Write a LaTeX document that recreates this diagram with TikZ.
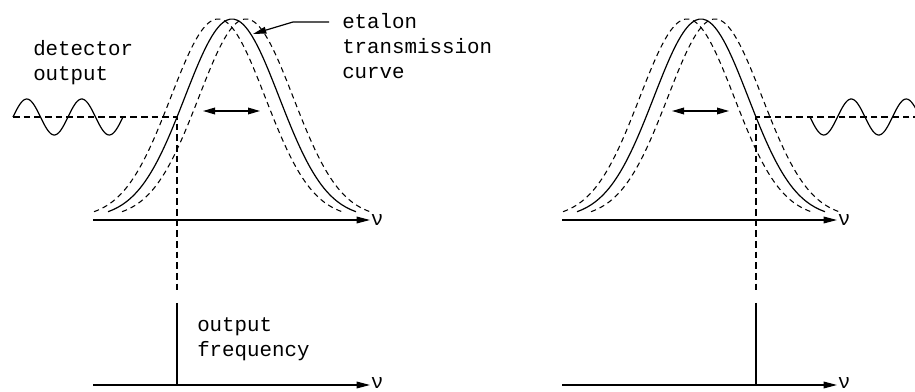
\documentclass[tikz,border=0pt]{standalone}
\usepackage{fontspec}
\newfontfamily\plotfont{Liberation Mono}
\usetikzlibrary{arrows.meta}
% transmission curve of the etalon, args: x, centre
\pgfmathdeclarefunction{etalon}{2}{\pgfmathparse{218-199*exp(-0.5*((#1-#2)/47.2)^2)}}
\tikzset{
  curve/.style={line width=0.9pt},
  shifted/.style={line width=0.8pt,dash pattern=on 4pt off 3pt},
  guide/.style={line width=0.8pt,dash pattern=on 5pt off 3pt},
  axis/.style={line width=0.9pt,-{Triangle[length=10pt,width=5pt]}},
  tune/.style={line width=0.9pt,{Triangle[length=9pt,width=5pt]}-{Triangle[length=9pt,width=5pt]}},
  lbl/.style={font=\plotfont\fontsize{15.6}{18.75}\selectfont,align=left,inner sep=0pt,anchor=base west},
  nu/.style={font=\plotfont\fontsize{15.6}{18}\selectfont,inner sep=0.5pt,anchor=west}
}
\begin{document}
\begin{tikzpicture}[x=0.75pt,y=-0.75pt]
\useasboundingbox (0,0) rectangle (915,392);
\clip (0,0) rectangle (915,392);
% left panel
\coordinate (axA0) at (93,220);  \coordinate (axA1) at (370,220);
\coordinate (axB0) at (93,385);  \coordinate (axB1) at (370,385);
\draw[axis] (axA0) -- (axA1);
\draw[axis] (axB0) -- (axB1);
\node[nu] (nuA) at (axA1) {ν};
\node[nu,yshift=1.5pt] (nuB) at (axB1) {ν};
\draw[shifted] plot[domain=94:342,samples=70,smooth] (\x,{etalon(\x,218)});
\draw[shifted] plot[domain=122:370,samples=70,smooth] (\x,{etalon(\x,246)});
\draw[curve] plot[domain=108:356,samples=70,smooth] (\x,{etalon(\x,232)});
\draw[curve] plot[domain=0:110,samples=80,smooth] ({13+\x},{117-18*sin(\x/55*360)});
\coordinate (sigA) at (13,117);  \coordinate (crossA) at (177,117);
\coordinate (gapA0) at (177,290); \coordinate (gapA1) at (177,303);
\draw[guide] (sigA) -- (crossA) -- (gapA0);
\draw[curve] (gapA1) -- (177,385);
\coordinate (tuneA0) at (203,111); \coordinate (tuneA1) at (260,111);
\draw[tune] (tuneA0) -- (tuneA1);
% multi-line labels sit on the baseline of their last line
\node[lbl] (detlbl) at (33,81) {detector\\output};
\node[lbl] (etalbl) at (342,79) {etalon\\transmission\\curve};
\node[lbl] (freqlbl) at (197,356) {output\\frequency};
\coordinate (leadA) at (329,22); \coordinate (leadB) at (293,22); \coordinate (leadC) at (253,34);
\draw[curve,-{Triangle[length=10pt,width=5pt]}] (leadA) -- (leadB) -- (leadC);
% right panel
\coordinate (axC0) at (562,220); \coordinate (axC1) at (837,220);
\coordinate (axD0) at (562,385); \coordinate (axD1) at (837,385);
\draw[axis] (axC0) -- (axC1);
\draw[axis] (axD0) -- (axD1);
\node[nu] (nuC) at (axC1) {ν};
\node[nu,yshift=1.5pt] (nuD) at (axD1) {ν};
\draw[shifted] plot[domain=563:811,samples=70,smooth] (\x,{etalon(\x,687)});
\draw[shifted] plot[domain=591:839,samples=70,smooth] (\x,{etalon(\x,715)});
\draw[curve] plot[domain=577:825,samples=70,smooth] (\x,{etalon(\x,701)});
\draw[curve] plot[domain=0:110,samples=80,smooth] ({920-\x},{117-18*sin(\x/55*360)});
\coordinate (sigB) at (920,117); \coordinate (crossB) at (756,117);
\coordinate (gapB0) at (756,290); \coordinate (gapB1) at (756,303);
\draw[guide] (sigB) -- (crossB) -- (gapB0);
\draw[curve] (gapB1) -- (756,385);
\coordinate (tuneB0) at (672,111); \coordinate (tuneB1) at (729,111);
\draw[tune] (tuneB0) -- (tuneB1);
\end{tikzpicture}
\end{document}
